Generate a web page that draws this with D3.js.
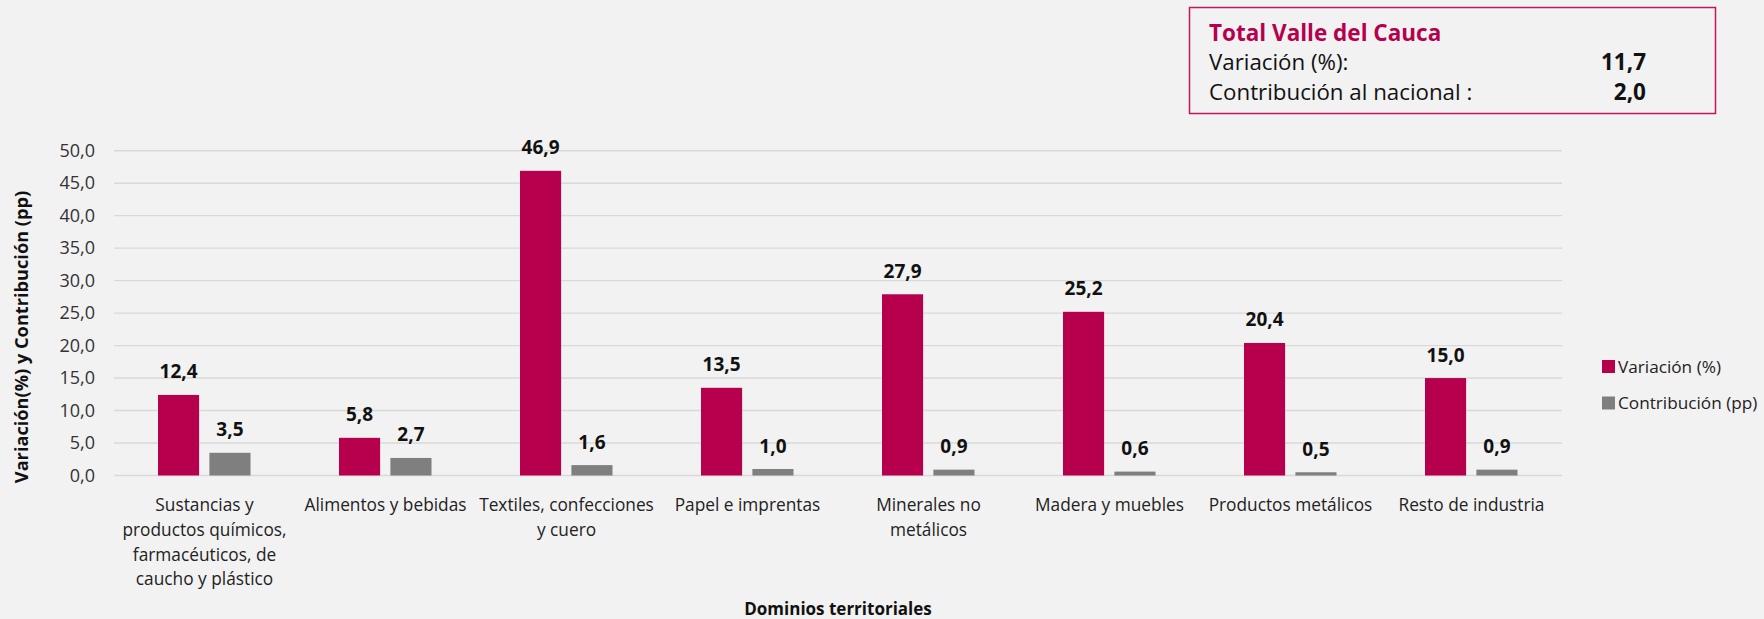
<!DOCTYPE html>
<html>
<head>
<meta charset="utf-8">
<script src="https://cdn.jsdelivr.net/npm/d3@7"></script>
<style>
  html, body { margin: 0; padding: 0; background: #F2F2F2; }
  svg { display: block; font-family: "Open Sans", "Noto Sans", sans-serif; }
</style>
</head>
<body>
<svg id="chart" width="1764" height="619"></svg>
<script>
const categories = [
  ["Sustancias y", "productos químicos,", "farmacéuticos, de", "caucho y plástico"],
  ["Alimentos y bebidas"],
  ["Textiles, confecciones", "y cuero"],
  ["Papel e imprentas"],
  ["Minerales no", "metálicos"],
  ["Madera y muebles"],
  ["Productos metálicos"],
  ["Resto de industria"]
];
const seriesNames = ["Variación (%)", "Contribución (pp)"];
const variacion = [12.4, 5.8, 46.9, 13.5, 27.9, 25.2, 20.4, 15.0];
const contribucion = [3.5, 2.7, 1.6, 1.0, 0.9, 0.6, 0.5, 0.9];
const yTicks = [0, 5, 10, 15, 20, 25, 30, 35, 40, 45, 50];
const totalTitle = "Total Valle del Cauca";
const totalLabels = ["Variación (%):", "Contribución al nacional :"];
const totalValues = [11.7, 2.0];
const colors = ["#B7004D", "#7F7F7F"];

(function () {
const fmt = v => v.toFixed(1).replace(".", ",");
const svg = d3.select("#chart");

const pLeft = 114, pRight = 1562, pTop = 150.7, pBottom = 475.5;
const catIdx = categories.map((d, i) => i);
const x0 = d3.scaleBand().domain(catIdx).range([pLeft, pRight]).padding(0);
const x1 = d3.scaleBand().domain([0, 1]).range([44, 136.5]).paddingInner(0.2);
const y = d3.scaleLinear().domain([0, 50]).range([pBottom, pTop]);

// gridlines
svg.append("g").selectAll("line").data(yTicks).join("line")
  .attr("x1", pLeft).attr("x2", pRight)
  .attr("y1", d => y(d)).attr("y2", d => y(d))
  .attr("stroke", "#D9D9D9").attr("stroke-width", 1.4);

// y axis
const yAxis = svg.append("g").attr("transform", `translate(${pLeft},0)`)
  .call(d3.axisLeft(y).tickValues(yTicks).tickFormat(fmt).tickSize(0).tickPadding(19));
yAxis.select(".domain").remove();
yAxis.selectAll("text").attr("font-size", 18).attr("fill", "#333").attr("font-family", "Open Sans");

// bars
const data = catIdx.map(i => ({ i, vals: [variacion[i], contribucion[i]] }));
const groups = svg.append("g").selectAll("g").data(data).join("g")
  .attr("transform", d => `translate(${x0(d.i)},0)`);
groups.selectAll("rect").data(d => d.vals.map((v, s) => ({ v, s }))).join("rect")
  .attr("x", d => x1(d.s)).attr("width", x1.bandwidth())
  .attr("y", d => y(d.v)).attr("height", d => y(0) - y(d.v))
  .attr("fill", d => colors[d.s]);
groups.selectAll("text.lbl").data(d => d.vals.map((v, s) => ({ v, s }))).join("text")
  .attr("class", "lbl")
  .attr("x", d => x1(d.s) + x1.bandwidth() / 2)
  .attr("y", d => y(d.v) - 16.5)
  .attr("text-anchor", "middle")
  .attr("font-size", 19).attr("font-weight", "bold").attr("fill", "#111")
  .text(d => fmt(d.v));

// x labels
const xl = svg.append("g").selectAll("text").data(data).join("text")
  .attr("x", d => x0(d.i) + x0.bandwidth() / 2)
  .attr("y", 511)
  .attr("text-anchor", "middle")
  .attr("font-size", 17.3).attr("fill", "#222");
xl.selectAll("tspan").data(d => categories[d.i]).join("tspan")
  .attr("x", function() { return d3.select(this.parentNode).attr("x"); })
  .attr("dy", (d, k) => k === 0 ? 0 : 24.8)
  .text(d => d);

// axis titles
svg.append("text")
  .attr("transform", `translate(28,337) rotate(-90)`)
  .attr("text-anchor", "middle").attr("font-size", 18.2).attr("font-weight", "bold").attr("fill", "#111")
  .text("Variación(%) y Contribución (pp)");
svg.append("text")
  .attr("x", (pLeft + pRight) / 2).attr("y", 615)
  .attr("text-anchor", "middle").attr("font-size", 17).attr("font-weight", "bold").attr("fill", "#111")
  .text("Dominios territoriales");

// legend
const lg = svg.append("g").selectAll("g").data(seriesNames).join("g")
  .attr("transform", (d, k) => `translate(1602,${366.5 + k * 36.5})`);
lg.append("rect").attr("x", 0).attr("y", -6.5).attr("width", 13).attr("height", 13)
  .attr("fill", (d, k) => colors[k]);
lg.append("text").attr("x", 16).attr("y", 6).attr("font-size", 17.2).attr("fill", "#222")
  .text(d => d);

// total box
const box = svg.append("g");
box.append("rect").attr("x", 1189.5).attr("y", 7.5).attr("width", 526).attr("height", 106)
  .attr("fill", "none").attr("stroke", "#C0185C").attr("stroke-width", 1.5);
box.append("text").attr("x", 1209).attr("y", 41).attr("font-size", 22.5).attr("font-weight", "bold")
  .attr("fill", "#B7004D").text(totalTitle);
box.selectAll("text.tl").data(totalLabels).join("text").attr("class", "tl")
  .attr("x", 1209).attr("y", (d, k) => 70 + k * 29.5)
  .attr("font-size", 22.3).attr("fill", "#111").text(d => d);
box.selectAll("text.tv").data(totalValues).join("text").attr("class", "tv")
  .attr("x", 1646).attr("y", (d, k) => 70 + k * 29.5)
  .attr("text-anchor", "end").attr("font-size", 22.5).attr("font-weight", "bold").attr("fill", "#111")
  .text(d => fmt(d));
})();
</script>
</body>
</html>
